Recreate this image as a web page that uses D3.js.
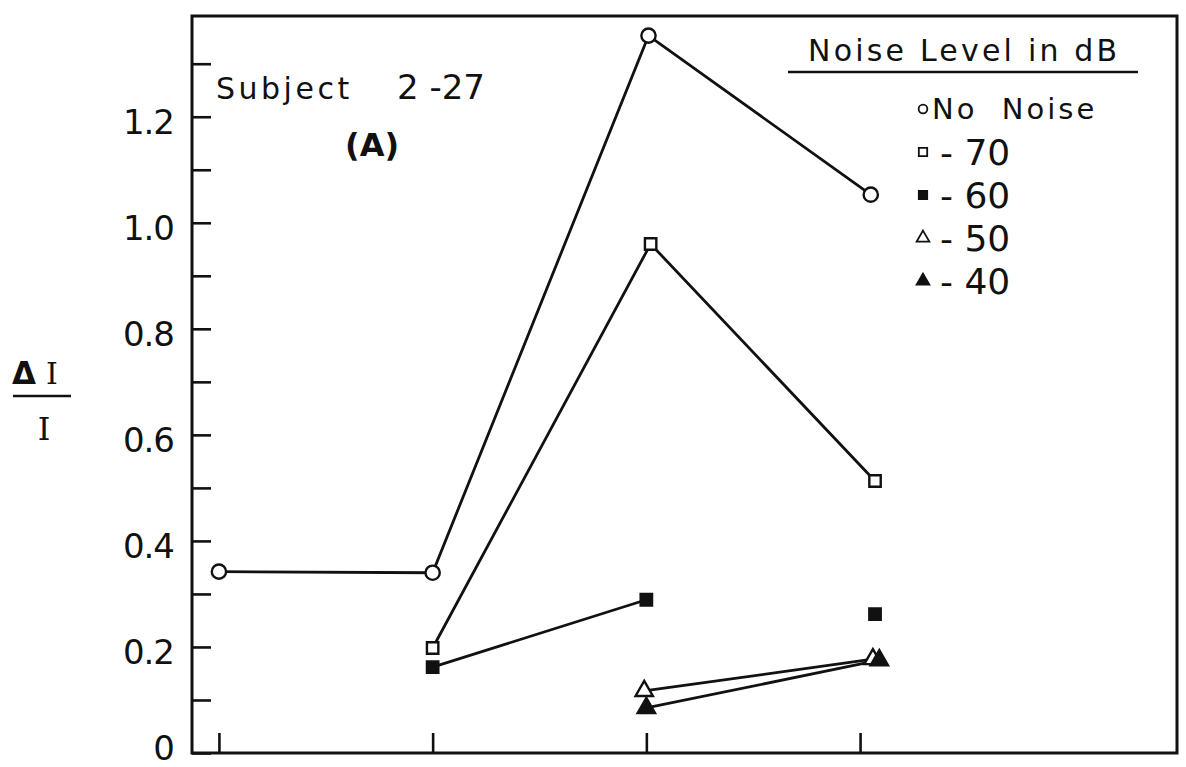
<!DOCTYPE html>
<html>
<head>
<meta charset="utf-8">
<script src="https://cdn.jsdelivr.net/npm/d3@7"></script>
<style>
  body { margin: 0; background: #fff; }
  text { font-family: "DejaVu Sans", sans-serif; fill: #111; }
</style>
</head>
<body>
<svg id="chart" width="1186" height="767"></svg>
<script>
// Stimulus conditions along the bottom axis (unlabelled ticks)
const conditions = [1, 2, 3, 4];

// Left axis: minor tick every 0.1, label every 0.2
const yTickValues = [0, 0.1, 0.2, 0.3, 0.4, 0.5, 0.6, 0.7, 0.8, 0.9, 1.0, 1.1, 1.2, 1.3];
const yTickLabels = ["0", "", "0.2", "", "0.4", "", "0.6", "", "0.8", "", "1.0", "", "1.2", ""];

// ΔI/I per noise level; x is the condition (points sit slightly off the ticks)
const noNoiseX = [1.0, 2.0, 3.01, 4.05];
const noNoiseY = [0.342, 0.340, 1.353, 1.053];

const minus70X = [2.0, 3.02, 4.07];
const minus70Y = [0.198, 0.960, 0.513];

const minus60X = [2.0, 3.0, 4.07];
const minus60Y = [0.162, 0.289, 0.262];
const minus60Joined = 2;      // only the first two points are joined

const minus50X = [2.99, 4.06];
const minus50Y = [0.117, 0.177];

const minus40X = [3.0, 4.09];
const minus40Y = [0.085, 0.175];

const legendLabels = ["No  Noise", "- 70", "- 60", "- 50", "- 40"];

const series = [
  { xs: noNoiseX, ys: noNoiseY, symbol: d3.symbolCircle, filled: false, joined: noNoiseX.length },
  { xs: minus70X, ys: minus70Y, symbol: d3.symbolSquare, filled: false, joined: minus70X.length },
  { xs: minus60X, ys: minus60Y, symbol: d3.symbolSquare, filled: true, joined: minus60Joined },
  { xs: minus50X, ys: minus50Y, symbol: d3.symbolTriangle, filled: false, joined: minus50X.length },
  { xs: minus40X, ys: minus40Y, symbol: d3.symbolTriangle, filled: true, joined: minus40X.length }
];

const svg = d3.select("#chart");

// Frame extent in data units
const xExtent = [0.874, 5.483];
const yExtent = [0, 1.39];

const x = d3.scaleLinear().domain(xExtent).range([192, 1177]);
const y = d3.scaleLinear().domain(yExtent).range([753, 16]);

// Frame
svg.append("rect")
  .attr("x", x(xExtent[0])).attr("y", y(yExtent[1]))
  .attr("width", x(xExtent[1]) - x(xExtent[0]))
  .attr("height", y(yExtent[0]) - y(yExtent[1]))
  .attr("fill", "none").attr("stroke", "#111").attr("stroke-width", 3);

// Left axis, ticks pointing inward
const yAxis = d3.axisLeft(y)
  .tickValues(yTickValues)
  .tickSize(-19)
  .tickPadding(18)
  .tickFormat((d, i) => yTickLabels[i]);

const gy = svg.append("g")
  .attr("transform", `translate(${x(xExtent[0])},0)`)
  .call(yAxis);
gy.select(".domain").remove();
gy.selectAll(".tick line").attr("stroke", "#111").attr("stroke-width", 2.6);
gy.selectAll(".tick text")
  .style("font-family", "'DejaVu Sans', sans-serif")
  .style("font-size", "34px")
  .attr("fill", "#111")
  .attr("dy", d => d === 0 ? "0.2em" : "0.5em")
  .attr("letter-spacing", "-1");

// Bottom axis, ticks pointing up
const xAxis = d3.axisBottom(x)
  .tickValues(conditions)
  .tickSize(-20)
  .tickFormat("");
const gx = svg.append("g")
  .attr("transform", `translate(0,${y(yExtent[0])})`)
  .call(xAxis);
gx.select(".domain").remove();
gx.selectAll(".tick line").attr("stroke", "#111").attr("stroke-width", 2.6);

// Y axis title: ΔI over I
const title = svg.append("g");
const num = title.append("text").attr("x", 12).attr("y", 384);
num.append("tspan").style("font-size", "31px").style("font-weight", "bold").text("Δ");
num.append("tspan").attr("dx", 10).style("font-size", "30px")
  .style("font-family", "'DejaVu Serif', serif").text("I");
title.append("line").attr("x1", 13).attr("x2", 71).attr("y1", 396).attr("y2", 396)
  .attr("stroke", "#111").attr("stroke-width", 2.5);
title.append("text").attr("x", 44).attr("y", 440)
  .attr("text-anchor", "middle").style("font-size", "32px")
  .style("font-family", "'DejaVu Serif', serif")
  .text("I");

// Subject annotation
const subj = svg.append("text").attr("x", 216).attr("y", 99);
subj.append("tspan").style("font-size", "30px").attr("letter-spacing", "3.5").text("Subject");
subj.append("tspan").attr("x", 397).style("font-size", "34px").text("2 -27");
svg.append("text").attr("x", 345).attr("y", 156)
  .style("font-size", "32px").style("font-weight", "bold")
  .text("(A)");

// Data lines and markers
const line = d3.line().x(d => x(d[0])).y(d => y(d[1]));

series.forEach(s => {
  const pts = s.xs.map((v, i) => [v, s.ys[i]]);
  svg.append("path")
    .datum(pts.slice(0, s.joined))
    .attr("d", line)
    .attr("fill", "none").attr("stroke", "#111").attr("stroke-width", 2.8);
});

series.forEach(s => {
  const pts = s.xs.map((v, i) => [v, s.ys[i]]);
  const size = s.symbol === d3.symbolCircle ? 160 : 130;
  svg.selectAll(null).data(pts).enter().append("path")
    .attr("transform", d => `translate(${x(d[0])},${y(d[1])})`)
    .attr("d", d3.symbol().type(s.symbol).size(size))
    .attr("fill", s.filled ? "#111" : "#fff")
    .attr("stroke", "#111").attr("stroke-width", 2.4);
});

// Legend
const legend = svg.append("g");
legend.append("text").attr("x", 808).attr("y", 61)
  .style("font-size", "30px").attr("letter-spacing", "3.2")
  .text("Noise Level in dB");
legend.append("line").attr("x1", 788).attr("x2", 1138).attr("y1", 72).attr("y2", 72)
  .attr("stroke", "#111").attr("stroke-width", 2.5);

const rowY = d3.scaleLinear().domain([0, 4]).range([109, 281]);
series.forEach((s, i) => {
  const cy = rowY(i);
  const size = s.symbol === d3.symbolCircle ? 60 : 70;
  legend.append("path")
    .attr("transform", `translate(923,${cy})`)
    .attr("d", d3.symbol().type(s.symbol).size(size))
    .attr("fill", s.filled ? "#111" : "#fff")
    .attr("stroke", "#111").attr("stroke-width", 1.8);
  legend.append("text")
    .attr("x", i === 0 ? 932 : 940).attr("y", cy)
    .attr("dy", "0.36em")
    .style("font-size", i === 0 ? "29px" : "36px")
    .attr("letter-spacing", i === 0 ? "3" : "0")
    .style("white-space", "pre")
    .text(legendLabels[i]);
});
</script>
</body>
</html>
